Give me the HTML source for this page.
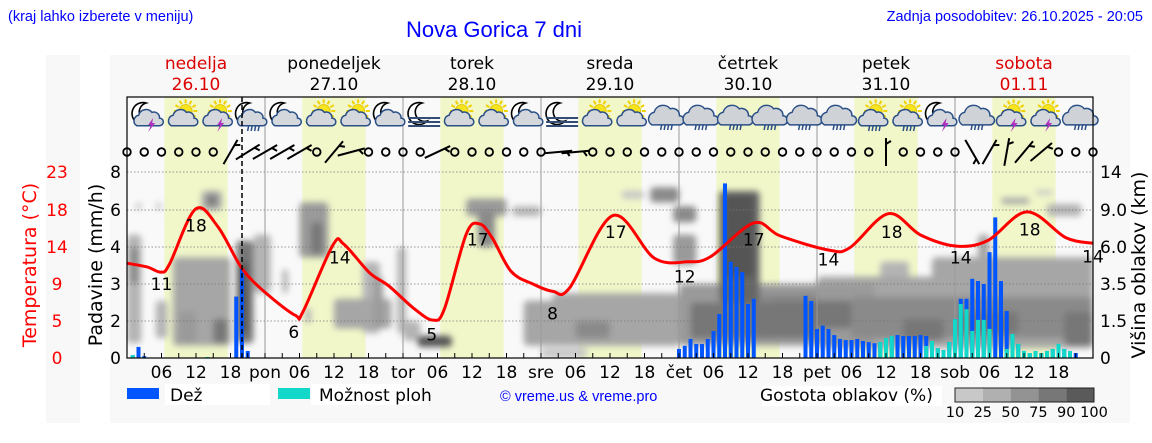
<!DOCTYPE html>
<html><head><meta charset="utf-8"><style>
body{margin:0;background:#fff;width:1152px;height:443px;overflow:hidden;font-family:"DejaVu Sans",sans-serif}
svg{display:block}
</style></head><body>
<svg id="c" width="1152" height="443" viewBox="0 0 1152 443" xmlns="http://www.w3.org/2000/svg">
<defs><filter id="blur" x="-5%" y="-20%" width="110%" height="140%"><feGaussianBlur stdDeviation="3.2"/></filter>
<clipPath id="plotclip"><rect x="127" y="97" width="966" height="261"/></clipPath></defs>
<rect x="46" y="55" width="34" height="368" fill="#f8f8f8"/>
<rect x="110" y="55" width="1020" height="368" fill="#f8f8f8"/>
<text x="8" y="21" font-family="Liberation Sans, sans-serif" font-size="14.5" fill="#0000ff">(kraj lahko izberete v meniju)</text>
<text x="494" y="37" text-anchor="middle" font-family="Liberation Sans, sans-serif" font-size="22" fill="#0000ff">Nova Gorica 7 dni</text>
<text x="1143" y="21" text-anchor="end" font-family="Liberation Sans, sans-serif" font-size="14.5" fill="#0000ff">Zadnja posodobitev: 26.10.2025 - 20:05</text>
<g id="bands"></g><g clip-path="url(#plotclip)"><g id="clouds" filter="url(#blur)"></g></g><g id="grid"></g><g id="bars"></g><g id="temp"></g><g id="icons"></g><g id="wind"></g><g id="axes"></g>
<text transform="translate(36,265) rotate(-90)" text-anchor="middle" font-size="19" fill="#ff0000">Temperatura (°C)</text>
<text transform="translate(102,265) rotate(-90)" text-anchor="middle" font-size="19" fill="#000">Padavine (mm/h)</text>
<text transform="translate(1145,265) rotate(-90)" text-anchor="middle" font-size="19" fill="#000">Višina oblakov (km)</text>
<g>
<rect x="127" y="388" width="32" height="11" fill="#0055ff"/>
<rect x="165" y="384" width="105" height="21" fill="#fff"/>
<text x="170" y="401" font-size="17">Dež</text>
<rect x="278" y="388" width="32" height="11" fill="#11d8c8"/>
<rect x="311" y="384" width="110" height="21" fill="#fff"/>
<text x="319" y="401" font-size="17">Možnost ploh</text>
<text x="500" y="401" font-family="Liberation Sans, sans-serif" font-size="14.5" fill="#0000ff">© vreme.us &amp; vreme.pro</text>
<rect x="762" y="386" width="180" height="20" fill="#fff"/>
<text x="760" y="401" font-size="17">Gostota oblakov (%)</text>
<g id="scale"></g>
</g>
</svg>
<script>
const NS="http://www.w3.org/2000/svg";
function mk(p,t,a){const e=document.createElementNS(NS,t);for(const k in a)e.setAttribute(k,a[k]);p.appendChild(e);return e;}
// ---- data ----
const dayNames=["nedelja","ponedeljek","torek","sreda","četrtek","petek","sobota"];
const dayDates=["26.10","27.10","28.10","29.10","30.10","31.10","01.11"];
const dayAbbr=["","pon","tor","sre","čet","pet","sob"];
const leftTicks=["0","2","3","4","6","8"];
const tempTicks=["0","5","9","14","18","23"];
const cloudTicks=["0","1.5","3.5","6.0","9.0","14"];
const precipKnots=[0,2,3,4,6,8];
const tempKnots=[0,5,9,14,18,23];
const kmKnots=[0,1.5,3.5,6,9,14];
const tempHours=[0,3.5,5.9,7.4,11.9,15.8,20,24.2,29.3,30.6,35.8,37.7,42.2,45.5,50,53.2,55.2,59,61.3,63.5,66.8,70.6,74.1,77,84.5,91.7,97.5,101.5,109,113.6,122,125.7,132.4,138,144.2,149.7,156.5,163.3,168];
const temps=[11.8,11.3,10.6,11.7,18.1,16.2,11.1,8.0,5.6,6.0,14.2,14.3,10.5,8.8,6.3,5.1,6.3,15.4,16.5,15,10.7,9.0,8.2,8.6,17.4,12.5,12.0,12.7,16.6,15.2,13.6,13.9,17.6,15.3,14.1,14.7,17.8,15,14.4];
const tempLabelHours=[6,12,29,37,53,61,74,85,97,109,122,133,145,157,168];
const tempLabels=[11,18,6,14,5,17,8,17,12,17,14,18,14,18,14];
const tempLabelTemps=[9,16.3,3.5,12.6,3.2,14.8,5.8,15.6,10,14.8,12.3,15.6,12.6,15.9,12.7];
const rainHours=[1,2,3,14,19,20,21,96,97,98,99,100,101,102,103,104,105,106,107,108,109,118,119,120,121,122,123,124,125,126,127,128,129,130,131,132,133,134,135,136,137,138,139,140,141,142,143,144,145,146,147,148,149,150,151,152,153,154,155,156,157,158,159,160,161,162,163,164,165];
const rain=[0.15,0.6,0.1,0.05,2.66,3.43,0.38,0.49,0.66,1.03,0.76,0.76,1.03,1.46,2.19,7.4,3.6,3.46,3.32,2.46,2.6,2.68,2.54,1.57,1.75,1.57,1.24,1.03,0.97,0.97,1.03,0.92,0.86,0.8,0.86,1.08,1.19,1.24,1.19,1.19,1.19,1.24,1.19,0.92,0.54,0.43,0.86,2.05,2.6,2.6,3.14,3.08,3.0,3.86,5.6,3.08,2.27,1.3,0.76,0.38,0.27,0.38,0.27,0.38,0.49,0.76,0.49,0.38,0.27];
const storm=[0.15,0,0,0.05,0,0,0,0,0,0,0,0,0,0,0,0,0,0,0,0,0,0,0,0,0,0,0,0,0,0,0,0,0,0,0.86,1.08,1.19,0,0,0,0,0,0.65,0.92,0.54,0.43,0.86,2.05,2.46,2.32,1.46,2.03,2.03,1.57,0,0,0.49,1.3,0.76,0.38,0.27,0.38,0.27,0.38,0.49,0.76,0.49,0.38,0];
const cloudH0=[0,0.5,5,8,9,15,1.5,5,13,14,19,19.5,22,27,30,32,36,31,41,43,47,48,50.5,59,61,67,69,72,74,78,86,91,95,95,96,98,103,104,110,120,126,131,140,148,152,158,160,163,145,112,135];
const cloudH1=[2.5,2,7,18,12,17.5,2.5,6,16.5,15.5,22,21,25,28,35,34,46,32,44,44.5,48.5,51,56.5,66,64,72,96,80,96,84,90,96,99,99,130,120,110,109,120,168,168,136,168,150,157,161,166,168,155,126,142];
const cloudK0=[0.6,3.5,0.8,0.5,0.6,0.6,9,9,9,9.5,0.6,1,3,3,5.3,5.5,1.2,1.4,1,1.2,1,0.7,0.45,8.5,6,8.5,0.5,0,0.5,0.8,10.5,10,8,4.8,0.5,0.8,2.5,4,1.5,0.4,0.8,3.5,3,4,9.8,11,8.5,0.5,1,1.2,0.7];
const cloudK1=[7,6,2.6,5.3,2,1.6,10,10,11.5,11,6.5,5,7,4.5,10,8,2.7,2.2,5,4,6,1.5,0.9,10.5,9,9.5,2.6,0.4,3,1.5,11.5,12,9.5,7,3.5,2.5,11.5,11,3,4,2.8,5,5.3,7,10.6,11.6,9.8,2,2,2.6,1.6];
const cloudD=[35,60,35,45,50,70,25,25,45,70,70,95,30,30,55,75,45,35,30,50,30,30,95,55,60,35,40,25,45,60,25,65,60,55,55,75,85,95,60,45,60,35,40,40,40,25,35,75,70,75,75];
const scaleLabels=["10","25","50","75","90","100"];
const scaleColors=["#c8c8c8","#b0b0b0","#939393","#777","#5a5a5a"];
const iconTypes=["ml","sc","scl","mr","mc","sc","sc","mc","mf","sc","sc","mc","mf","sc","sc","cr","cr","cr","cr","cr","cr","scr","scr","ml","cr","scl","scl","cr"];
const windAngles=[null,null,null,null,null,null,60,32,30,30,30,null,50,15,null,null,null,null,25,null,null,null,null,null,null,5,5,null,null,null,null,null,null,null,null,null,null,null,null,null,null,null,null,null,90,null,null,null,null,-60,60,80,50,40,null,null,null];
// ---- scales ----
const X0=127,PX=5.75,TOP=97,Y0=358;
const knotY=[358,321,284,247,210,172];
function pw(v,knots){if(v<=knots[0])return knotY[0];for(let i=1;i<knots.length;i++){if(v<=knots[i]){const f=(v-knots[i-1])/(knots[i]-knots[i-1]);return knotY[i-1]+f*(knotY[i]-knotY[i-1]);}}const n=knots.length-1;return knotY[n]+(v-knots[n])/(knots[n]-knots[n-1])*(knotY[n]-knotY[n-1]);}
const x=h=>X0+h*PX;
const yP=v=>pw(v,precipKnots), yT=v=>pw(v,tempKnots), yK=v=>pw(v,kmKnots);
const svg=document.getElementById('c');
// bands
const bands=document.getElementById('bands');
mk(bands,'rect',{x:X0,y:TOP,width:966,height:261,fill:'#f9f9f9'});
for(let d=0;d<7;d++){
 const r=mk(bands,'rect',{x:x(d*24+6.5),y:TOP,width:11*PX,height:Y0-TOP,fill:'#f1f7c9'});
 
 
 const t=mk(svg,'text',{x:x(d*24+12),y:69,'text-anchor':'middle','font-size':17,fill:(d==0||d==6)?'#dd0000':'#000'});t.textContent=dayNames[d];
 
 
 const t2=mk(svg,'text',{x:x(d*24+12),y:90,'text-anchor':'middle','font-size':17,fill:(d==0||d==6)?'#dd0000':'#000'});t2.textContent=dayDates[d];
 
 
}
// clouds
const cg=document.getElementById('clouds');
function dcol(d){if(d<=25)return '#c6c6c6';if(d<=35)return '#b4b4b4';if(d<=45)return '#a6a6a6';if(d<=55)return '#9a9a9a';if(d<=65)return '#8a8a8a';if(d<=75)return '#777';if(d<=85)return '#666';return '#555';}
const order=cloudD.map((d,i)=>i).sort((a,b)=>cloudD[a]-cloudD[b]);
order.forEach(i=>{const y1=yK(cloudK1[i]),y2=yK(cloudK0[i]);
 const r=mk(cg,'rect',{x:x(cloudH0[i]),y:y1,width:(cloudH1[i]-cloudH0[i])*PX,height:y2-y1,fill:dcol(cloudD[i]),rx:4});
 
 });
// grid
const gg=document.getElementById('grid');
for(let i=1;i<6;i++){const l=mk(gg,'line',{x1:X0,x2:1093,y1:knotY[i],y2:knotY[i],stroke:'#777','stroke-width':0.8,'stroke-dasharray':'1.5,2'});
 
 }
for(let d=1;d<7;d++){const l=mk(gg,'line',{x1:x(d*24),x2:x(d*24),y1:TOP,y2:Y0,stroke:'#999','stroke-width':1});
 
 }
// bars
const bg=document.getElementById('bars');
rainHours.forEach((h,i)=>{const r=mk(bg,'rect',{x:x(h)-2,y:yP(rain[i]),width:4,height:Y0-yP(rain[i]),fill:'#0055ff'});
 
 
 if(storm[i]>0){const s=mk(bg,'rect',{x:x(h)-2,y:yP(storm[i]),width:4,height:Y0-yP(storm[i]),fill:'#11d8c8'});
 
 }});
// now line
const nl=mk(svg,'line',{x1:x(20),x2:x(20),y1:TOP,y2:Y0,stroke:'#000','stroke-width':1.5,'stroke-dasharray':'5,3'});


// temperature
const tg=document.getElementById('temp');
const pts=tempHours.map((h,i)=>[x(h),yT(temps[i])]);
let d='M'+pts[0][0]+','+pts[0][1];
for(let i=0;i<pts.length-1;i++){const p0=pts[Math.max(0,i-1)],p1=pts[i],p2=pts[i+1],p3=pts[Math.min(pts.length-1,i+2)];
 d+=` C${p1[0]+(p2[0]-p0[0])/6},${p1[1]+(p2[1]-p0[1])/6} ${p2[0]-(p3[0]-p1[0])/6},${p2[1]-(p3[1]-p1[1])/6} ${p2[0]},${p2[1]}`;}
const tl=mk(tg,'path',{d:d,fill:'none',stroke:'#ff0000','stroke-width':3});


tempLabels.forEach((v,i)=>{const t=mk(tg,'text',{x:x(tempLabelHours[i]),y:yT(tempLabelTemps[i])+6,'text-anchor':'middle','font-size':17,fill:'#000'});t.textContent=v;
 
 });
// axes
const ag=document.getElementById('axes');
mk(ag,'rect',{x:X0,y:TOP,width:966,height:Y0-TOP,fill:'none',stroke:'#000','stroke-width':1.2});
for(let i=0;i<6;i++){
 const a=mk(ag,'text',{x:121,y:knotY[i]+6,'text-anchor':'end','font-size':17});a.textContent=leftTicks[i];
 
 
 const b=mk(ag,'text',{x:57,y:knotY[i]+6,'text-anchor':'middle','font-size':17,fill:'#ff0000'});b.textContent=tempTicks[i];
 
 
 const c=mk(ag,'text',{x:1100,y:knotY[i]+6,'font-size':17});c.textContent=cloudTicks[i];
 
 
}
for(let h=3;h<168;h+=3){mk(ag,'line',{x1:x(h),x2:x(h),y1:Y0,y2:Y0-5,stroke:'#000','stroke-width':1});}
for(let dd=0;dd<7;dd++){
 [6,12,18].forEach(hh=>{const t=mk(ag,'text',{x:x(dd*24+hh),y:378,'text-anchor':'middle','font-size':17});t.textContent=(hh<10?'0':'')+hh;
 
 });
 if(dd>0){const t=mk(ag,'text',{x:x(dd*24),y:378,'text-anchor':'middle','font-size':17});t.textContent=dayAbbr[dd];
 
 }
}
// wind
const wg=document.getElementById('wind');
windAngles.forEach((a,i)=>{const cx=x(i*3),cy=152;
 if(a===null){const c=mk(wg,'circle',{cx:cx,cy:cy,r:3.8,fill:'none',stroke:'#000','stroke-width':1.8});
 
 }
 else{const g=mk(wg,'g',{transform:`translate(${cx},${cy}) rotate(${-a})`});
 
 
 mk(g,'line',{x1:-14,y1:0,x2:14,y2:0,stroke:'#000','stroke-width':2});
 mk(g,'line',{x1:8,y1:0,x2:11,y2:5,stroke:'#000','stroke-width':2});}
});
// icons
const ig=document.getElementById('icons');
function sun(g,cx,cy,r){for(let k=0;k<12;k++){const an=k*Math.PI/6;mk(g,'line',{x1:cx+Math.cos(an)*r*1.2,y1:cy+Math.sin(an)*r*1.2,x2:cx+Math.cos(an)*r*1.8,y2:cy+Math.sin(an)*r*1.8,stroke:'#f0d000','stroke-width':2});}
 mk(g,'circle',{cx:cx,cy:cy,r:r,fill:'#f6e51c',stroke:'#e0c000','stroke-width':0.8});}
function moon(g,cx,cy){mk(g,'path',{d:`M${cx+3},${cy-11} A11,11 0 1 0 ${cx+8},${cy+7} A9,9 0 1 1 ${cx+3},${cy-11} Z`,fill:'#fff',stroke:'#000','stroke-width':1.6});}
function cloud(g,cx,cy,s,col){mk(g,'path',{d:`M${cx-12*s},${cy+6*s} a6,6 0 0 1 2,-11 a8,8 0 0 1 14,-3 a6,6 0 0 1 8,6 a4,4 0 0 1 0,8 Z`.replace(/a(\d+),(\d+)/g,(m,a,b)=>'a'+a*s+','+b*s).replace(/ (-?\d+),(-?\d+)(?= |$| Z| a)/g,(m,a,b)=>' '+a*s+','+b*s),fill:col||'#d4d8dc',stroke:'#2a4f86','stroke-width':1.5});}
function rainDash(g,cx,cy){for(let k=0;k<4;k++)mk(g,'line',{x1:cx-5+k*3.5,y1:cy,x2:cx-6+k*3.5,y2:cy+5,stroke:'#2a4f86','stroke-width':1.5});}
function bolt(g,cx,cy){mk(g,'path',{d:`M${cx+2},${cy-4} L${cx-3},${cy+3} L${cx},${cy+3} L${cx-3},${cy+10} L${cx+4},${cy+1} L${cx+1},${cy+1} Z`,fill:'#b030c0'});}
function fog(g,cx,cy){for(let k=0;k<3;k++)mk(g,'line',{x1:cx-15,y1:cy+k*4,x2:cx+17,y2:cy+k*4,stroke:'#334e74','stroke-width':2});}
iconTypes.forEach((t,i)=>{const cx=x(i*6+3.5),cy=116;const g=mk(ig,'g',{});
 
 
 if(t[0]=='m'){moon(g,cx-4,cy-2);}
 if(t[0]=='s'){sun(g,cx+4,cy-5,6.5);}
 if(t=='mf'){fog(g,cx,cy+2);return;}
 if(t=='cr'){cloud(g,cx+1,cy+2,1.15,'#cfd3d7');rainDash(g,cx+2,cy+9);return;}
 cloud(g,cx+1,cy+4,0.95);
 if(t=='ml'||t=='scl')bolt(g,cx+4,cy+6);
 if(t=='mr'||t=='scr')rainDash(g,cx+3,cy+10);
});
// cloud scale
const sg=document.getElementById('scale');
scaleColors.forEach((c,i)=>{const r=mk(sg,'rect',{x:955+i*27.8,y:388,width:27.8,height:14,fill:c});
 
 });
mk(sg,'rect',{x:955,y:388,width:139,height:14,fill:'none',stroke:'#222','stroke-width':1});
scaleLabels.forEach((s,i)=>{const t=mk(sg,'text',{x:955+i*27.8,y:417,'text-anchor':'middle','font-size':14.5});t.textContent=s;
 
 });
</script>
</body></html>
